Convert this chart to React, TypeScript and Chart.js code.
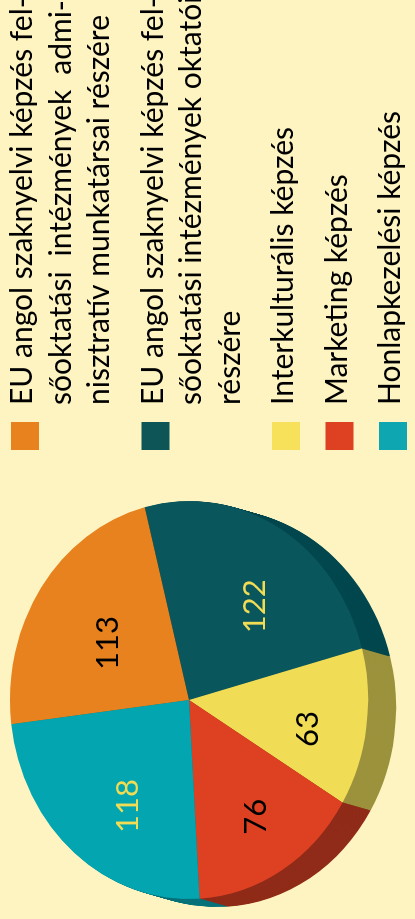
import React, { useEffect, useRef } from "react";
import { Chart, registerables } from "chart.js";

Chart.register(...registerables);

// ---- data ----
const categories = [
  "EU angol szaknyelvi képzés felsőoktatási intézmények adminisztratív munkatársai részére",
  "EU angol szaknyelvi képzés felsőoktatási intézmények oktatói részére",
  "Interkulturális képzés",
  "Marketing képzés",
  "Honlapkezelési képzés",
];
const legendLines = [
  ["EU angol szaknyelvi képzés fel-", "sőoktatási intézmények admi-", "nisztratív munkatársai részére"],
  ["EU angol szaknyelvi képzés fel-", "sőoktatási intézmények oktatói", "részére"],
  ["Interkulturális képzés"],
  ["Marketing képzés"],
  ["Honlapkezelési képzés"],
];
const values = [113, 122, 63, 76, 118];
const faceColors = ["#E8821E", "#0A565D", "#F0DC55", "#DE4121", "#03A5B0"];
const sideColors = ["#A45B14", "#03474E", "#9C923D", "#8F2B18", "#07727A"];
const legendColors = ["#E8821E", "#0E5558", "#F8E15A", "#DE4121", "#0DA6B1"];
const labelColors = ["#000000", "#F0DC55", "#000000", "#000000", "#F0DC55"];

// ---- layout / style ----
const BG = "#FDF4C1";
const W = 919;
const H = 415;
const PIE_R = 199;
const SQUASH = 0.9;
const DEPTH_X = -8;
const DEPTH_Y = 28;
const LABEL_DX = -12;
const LABEL_DY = 10;
const FONT = "Lato, 'Open Sans', 'Noto Sans', sans-serif";

function ellipse(ctx: CanvasRenderingContext2D, cx: number, cy: number) {
  ctx.translate(cx, cy);
  ctx.scale(1, SQUASH);
  ctx.translate(-cx, -cy);
}

const pie3d = {
  id: "pie3d",
  beforeDraw(chart: any) {
    const ctx = chart.ctx as CanvasRenderingContext2D;
    ctx.save();
    ctx.fillStyle = BG;
    ctx.fillRect(0, 0, chart.width, chart.height);
    ctx.restore();
  },
  beforeDatasetsDraw(chart: any) {
    const ctx = chart.ctx as CanvasRenderingContext2D;
    const arcs = chart.getDatasetMeta(0).data;
    const N = 28;
    for (let k = N; k >= 1; k--) {
      const ox = (DEPTH_X * k) / N;
      const oy = (DEPTH_Y * k) / N;
      arcs.forEach((a: any, i: number) => {
        ctx.save();
        ctx.translate(ox, oy);
        ellipse(ctx, a.x, a.y);
        ctx.beginPath();
        ctx.moveTo(a.x, a.y);
        ctx.arc(a.x, a.y, a.outerRadius, a.startAngle, a.endAngle);
        ctx.closePath();
        ctx.fillStyle = sideColors[i];
        ctx.fill();
        ctx.restore();
      });
    }
    ctx.save();
    if (arcs.length) ellipse(ctx, arcs[0].x, arcs[0].y);
  },
  afterDatasetsDraw(chart: any) {
    const ctx = chart.ctx as CanvasRenderingContext2D;
    ctx.restore();
    const arcs = chart.getDatasetMeta(0).data;
    ctx.save();
    ctx.font = `31px ${FONT}`;
    ctx.textAlign = "center";
    ctx.textBaseline = "middle";
    arcs.forEach((a: any, i: number) => {
      const mid = (a.startAngle + a.endAngle) / 2;
      const lr = a.outerRadius * 0.615;
      const px = a.x + lr * Math.cos(mid) + LABEL_DX;
      const py = a.y + SQUASH * lr * Math.sin(mid) + LABEL_DY;
      ctx.fillStyle = labelColors[i];
      ctx.fillText(String(values[i]), px, py);
    });
    ctx.restore();
  },
  afterDraw(chart: any) {
    const ctx = chart.ctx as CanvasRenderingContext2D;
    ctx.save();
    ctx.font = `30px ${FONT}`;
    ctx.textBaseline = "alphabetic";
    ctx.textAlign = "left";
    const boxX = 469;
    const textX = 514;
    const lineH = 38.5;
    const justifyW = 405;
    let y = 11;
    legendLines.forEach((lines, i) => {
      ctx.fillStyle = legendColors[i];
      ctx.fillRect(boxX, y, 28, 28);
      ctx.fillStyle = "#000000";
      lines.forEach((line, j) => {
        const base = y + 21 + j * lineH;
        const natural = ctx.measureText(line).width;
        const last = j === lines.length - 1;
        const words = line.split(" ");
        if (last || natural >= justifyW || words.length < 2) {
          ctx.fillText(line, textX, base);
        } else {
          const wordsW = words.reduce((s, w) => s + ctx.measureText(w).width, 0);
          const gap = (justifyW - wordsW) / (words.length - 1);
          let x = textX;
          words.forEach((w) => {
            ctx.fillText(w, x, base);
            x += ctx.measureText(w).width + gap;
          });
        }
      });
      y += lines.length * lineH + 15;
    });
    ctx.restore();
  },
};

export default function App() {
  const ref = useRef<HTMLCanvasElement | null>(null);

  useEffect(() => {
    document.body.style.margin = "0";
    document.body.style.background = BG;
    const canvas = ref.current;
    if (!canvas) return;
    const chart = new Chart(canvas, {
      type: "doughnut",
      data: {
        labels: categories,
        datasets: [
          {
            data: values,
            backgroundColor: faceColors,
            borderWidth: 0,
            clip: false,
          } as any,
        ],
      },
      options: {
        responsive: false,
        animation: false,
        devicePixelRatio: 1,
        cutout: 0,
        radius: PIE_R,
        rotation: -7,
        layout: { padding: { left: 30, top: 0, right: 511, bottom: 37 } },
        plugins: {
          legend: { display: false },
          tooltip: { enabled: false },
        },
        events: [],
      } as any,
      plugins: [pie3d],
    });
    return () => chart.destroy();
  }, []);

  return (
    <div
      style={{
        position: "fixed",
        left: 0,
        top: 0,
        width: 415,
        height: 919,
        overflow: "hidden",
        background: BG,
      }}
    >
      <canvas
        ref={ref}
        width={W}
        height={H}
        style={{
          position: "absolute",
          left: 0,
          top: 0,
          width: W,
          height: H,
          transformOrigin: "0 0",
          transform: `translate(0px, ${W}px) rotate(-90deg)`,
        }}
      />
    </div>
  );
}
